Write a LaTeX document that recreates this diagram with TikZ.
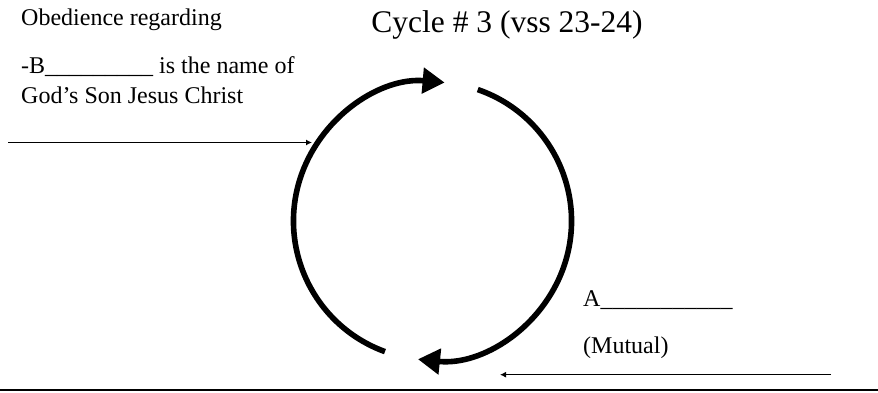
\documentclass[tikz,border=0pt]{standalone}
\usepackage{fontspec}
\setmainfont{Liberation Serif}
\usetikzlibrary{arrows.meta, positioning, calc}

\begin{document}
\begin{tikzpicture}[
    x=1pt, y=1pt,
    txt/.style={inner sep=0pt, anchor=base west, font=\fontsize{24}{28}\selectfont},
    cyclearc/.style={line width=5.6pt, -{Triangle[length=22pt, width=25pt]}},
    feed/.style={line width=1.6pt, -{Latex[length=6pt, width=6pt]}}
]
    \useasboundingbox (0,0) rectangle (878,393);

    % texts
    \node[txt] (obey) at (21,367) {Obedience regarding};
    \node[txt] (bname) at (21,319) {-B\_\_\_\_\_\_\_\_\_ is the name of};
    \node[txt] (son) at (21,289) {God’s Son Jesus Christ};
    \node[inner sep=0pt, anchor=base, font=\fontsize{31.5}{36}\selectfont] (title) at (507,360) {Cycle \# 3 (vss 23-24)};
    \node[txt] (agree) at (583,86) {A\_\_\_\_\_\_\_\_\_\_\_};
    \node[txt] (mutual) at (583,39) {(Mutual)};

    % the cycle
    \coordinate (c) at (432.5,172);
    \coordinate (la) at ($(c)+(250:139pt)$);
    \coordinate (ra) at ($(c)+(71:139pt)$);
    \draw[cyclearc] (la) arc[start angle=250, end angle=85, radius=139pt];
    \draw[cyclearc] (ra) arc[start angle=71, end angle=-96, radius=139pt];

    % side arrows
    \coordinate (inl) at (8,250.5);
    \coordinate (inr) at (312,250.5);
    \coordinate (outr) at (831,18.3);
    \coordinate (outl) at (500,18.3);
    \draw[feed] (inl) -- (inr);
    \draw[feed] (outr) -- (outl);

    % bottom rule
    \coordinate (rl) at (0,3);
    \coordinate (rr) at (878,3);
    \draw[line width=2.6pt] (rl) -- (rr);
\end{tikzpicture}
\end{document}
